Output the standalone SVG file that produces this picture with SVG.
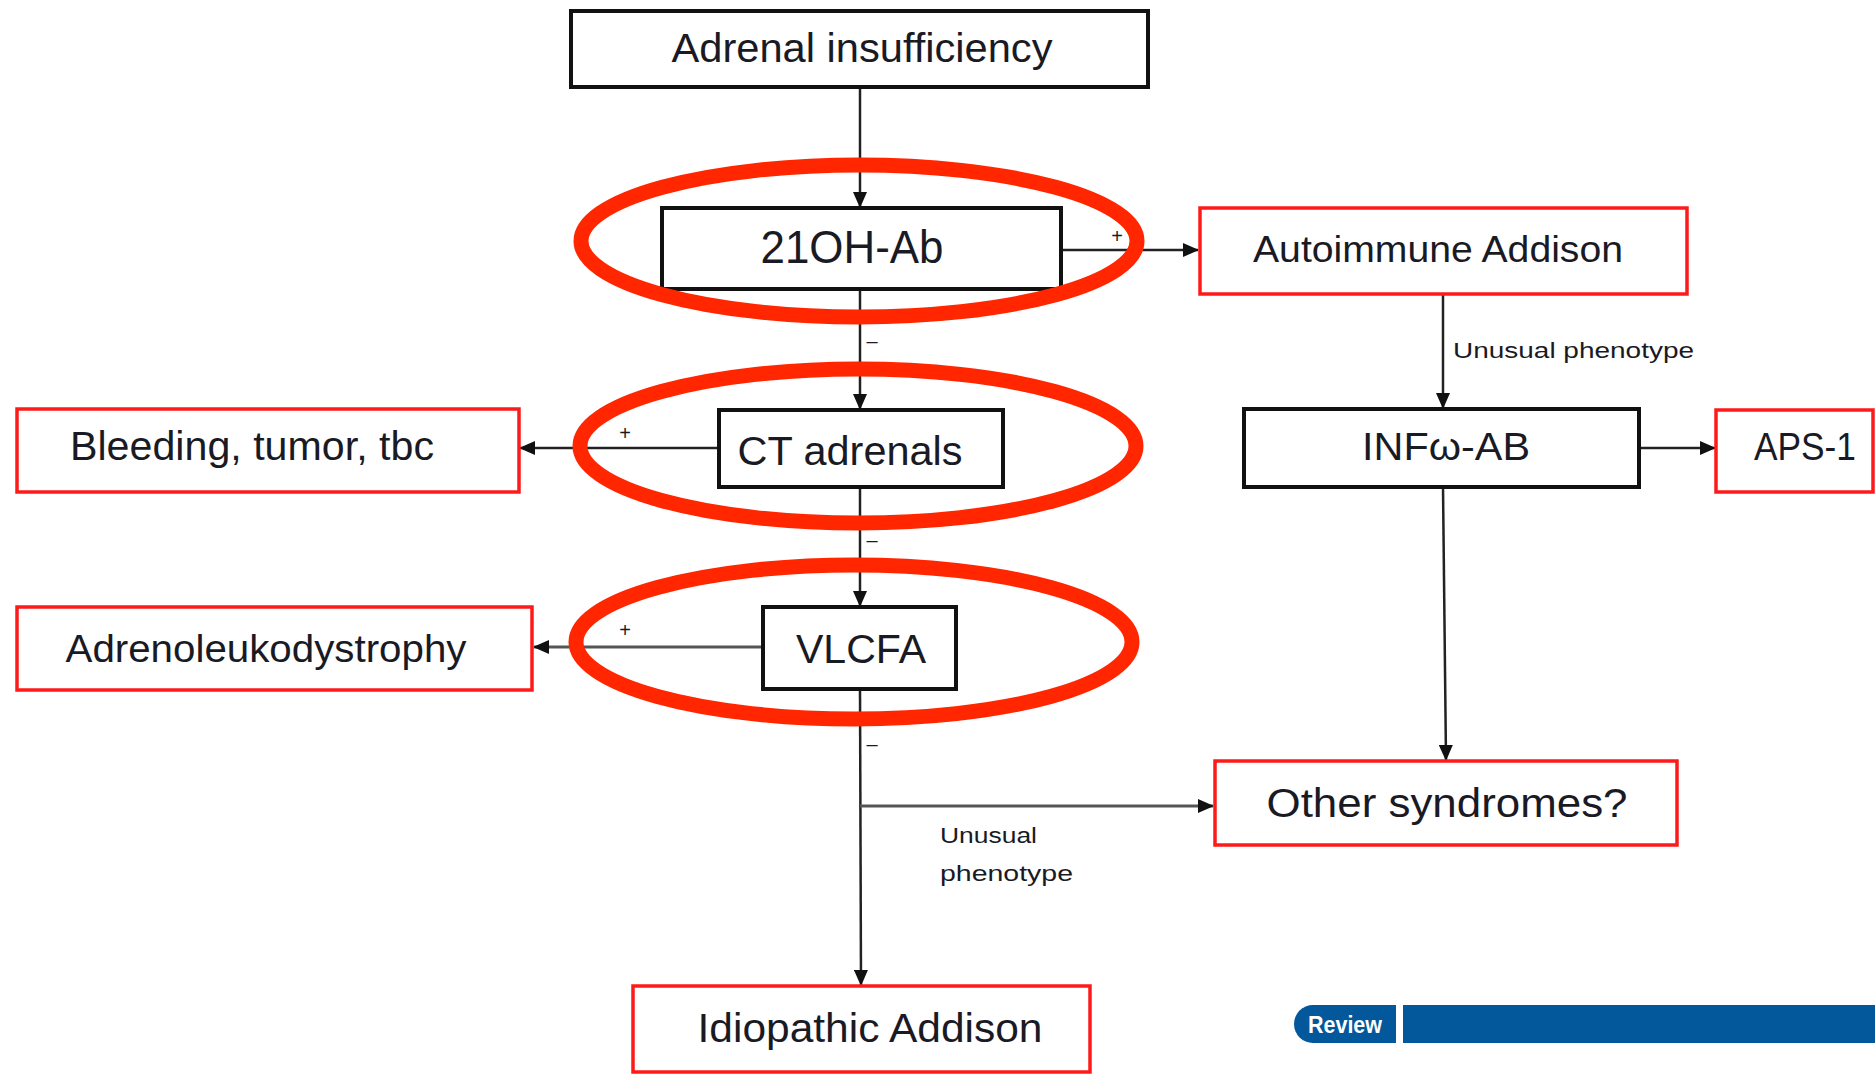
<svg xmlns="http://www.w3.org/2000/svg" width="1875" height="1074" viewBox="0 0 1875 1074">
<defs>
<style>
.bb{fill:#fff;stroke:#111;stroke-width:4}
.rb{fill:#fff;stroke:#ff1a1a;stroke-width:3.5}
.t{font-family:"Liberation Sans",Arial,sans-serif;fill:#1a1a24;text-anchor:middle}
.big{font-size:40px}
.sm{font-family:"Liberation Sans",Arial,sans-serif;fill:#1a1a24;font-size:22px}
.sign{font-family:"Liberation Sans",Arial,sans-serif;fill:#1a1a24;font-size:20px;text-anchor:middle}
.c{stroke:#222;stroke-width:2.5;fill:none}
.ring{fill:none;stroke:#ff2600;stroke-width:15}
</style>
<marker id="ah" markerUnits="userSpaceOnUse" markerWidth="16" markerHeight="14" refX="15" refY="7" orient="auto">
<path d="M0,0 L16,7 L0,14 z" fill="#111"/>
</marker>
</defs>
<rect width="1875" height="1074" fill="#fff"/>

<g id="connectors">
<line class="c" x1="860" y1="87" x2="860" y2="207" marker-end="url(#ah)"/>
<line class="c" x1="1061" y1="250" x2="1198" y2="250" marker-end="url(#ah)"/>
<line class="c" x1="860" y1="289" x2="860" y2="409" marker-end="url(#ah)"/>
<line class="c" x1="719" y1="448" x2="520" y2="448" marker-end="url(#ah)"/>
<line class="c" x1="860" y1="487" x2="860" y2="606" marker-end="url(#ah)"/>
<line class="c" x1="763" y1="647" x2="534" y2="647" marker-end="url(#ah)" style="stroke:#555;stroke-width:3"/>
<line class="c" x1="860" y1="689" x2="861" y2="985" marker-end="url(#ah)"/>
<line class="c" x1="860" y1="806" x2="1213" y2="806" marker-end="url(#ah)" style="stroke:#555;stroke-width:3"/>
<line class="c" x1="1443" y1="295" x2="1443" y2="408" marker-end="url(#ah)"/>
<line class="c" x1="1639" y1="448" x2="1715" y2="448" marker-end="url(#ah)"/>
<line class="c" x1="1443" y1="487" x2="1446" y2="760" marker-end="url(#ah)"/>
<text class="sign" x="1117" y="243">+</text>
<text class="sign" x="625" y="440">+</text>
<text class="sign" x="625" y="637">+</text>
<text class="sign" x="872" y="348">–</text>
<text class="sign" x="872" y="547">–</text>
<text class="sign" x="872" y="751">–</text>
<text class="sm" x="1453" y="358" textLength="241" lengthAdjust="spacingAndGlyphs">Unusual phenotype</text>
<text class="sm" x="940" y="843" textLength="97" lengthAdjust="spacingAndGlyphs">Unusual</text>
<text class="sm" x="940" y="881" textLength="133" lengthAdjust="spacingAndGlyphs">phenotype</text>
</g>

<g id="n-adrenal-insufficiency">
<rect class="bb" x="571" y="11" width="577" height="76"/>
<text class="t big" x="862" y="62" textLength="381" lengthAdjust="spacingAndGlyphs">Adrenal insufficiency</text>
</g>
<g id="n-21oh-ab">
<rect class="bb" x="662" y="208" width="399" height="81"/>
<text class="t" x="852" y="263" font-size="46" textLength="183" lengthAdjust="spacingAndGlyphs">21OH-Ab</text>
</g>
<g id="n-autoimmune-addison">
<rect class="rb" x="1200" y="208" width="487" height="86"/>
<text class="t" x="1438" y="262" font-size="36" textLength="370" lengthAdjust="spacingAndGlyphs">Autoimmune Addison</text>
</g>
<g id="n-ct-adrenals">
<rect class="bb" x="719" y="410" width="284" height="77"/>
<text class="t" x="850" y="465" font-size="40" textLength="225" lengthAdjust="spacingAndGlyphs">CT adrenals</text>
</g>
<g id="n-bleeding">
<rect class="rb" x="17" y="409" width="502" height="83"/>
<text class="t" x="252" y="460" font-size="40" textLength="364" lengthAdjust="spacingAndGlyphs">Bleeding, tumor, tbc</text>
</g>
<g id="n-infw-ab">
<rect class="bb" x="1244" y="409" width="395" height="78"/>
<text class="t" x="1446" y="460" font-size="38" textLength="168" lengthAdjust="spacingAndGlyphs">INFω-AB</text>
</g>
<g id="n-aps-1">
<rect class="rb" x="1716" y="410" width="157" height="82"/>
<text class="t" x="1805" y="460" font-size="38" textLength="102" lengthAdjust="spacingAndGlyphs">APS-1</text>
</g>
<g id="n-vlcfa">
<rect class="bb" x="763" y="607" width="193" height="82"/>
<text class="t" x="861" y="663" font-size="40" textLength="130" lengthAdjust="spacingAndGlyphs">VLCFA</text>
</g>
<g id="n-adrenoleukodystrophy">
<rect class="rb" x="17" y="607" width="515" height="83"/>
<text class="t" x="266" y="662" font-size="38" textLength="401" lengthAdjust="spacingAndGlyphs">Adrenoleukodystrophy</text>
</g>
<g id="n-other-syndromes">
<rect class="rb" x="1215" y="761" width="462" height="84"/>
<text class="t" x="1447" y="817" font-size="40" textLength="361" lengthAdjust="spacingAndGlyphs">Other syndromes?</text>
</g>
<g id="n-idiopathic-addison">
<rect class="rb" x="633" y="986" width="457" height="86"/>
<text class="t" x="870" y="1042" font-size="40" textLength="345" lengthAdjust="spacingAndGlyphs">Idiopathic Addison</text>
</g>

<g id="highlights">
<ellipse class="ring" cx="859" cy="241" rx="278" ry="76"/>
<ellipse class="ring" cx="858" cy="446" rx="278" ry="77"/>
<ellipse class="ring" cx="854" cy="642" rx="278" ry="77"/>
</g>

<g id="review-banner">
<path d="M1313,1005 H1396 V1043 H1313 A19,19 0 0 1 1313,1005 z" fill="#02589a"/>
<rect x="1403" y="1005" width="472" height="38" fill="#02589a"/>
<text x="1308" y="1033" font-family="'Liberation Sans Narrow','Liberation Sans',Arial,sans-serif" font-weight="bold" font-size="24" fill="#fff" textLength="74" lengthAdjust="spacingAndGlyphs">Review</text>
</g>
</svg>
